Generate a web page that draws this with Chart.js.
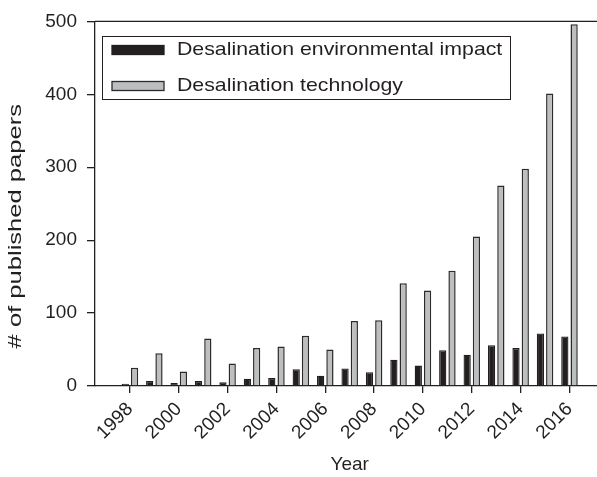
<!DOCTYPE html>
<html>
<head>
<meta charset="utf-8">
<script src="https://cdn.jsdelivr.net/npm/chart.js@4/dist/chart.umd.min.js"></script>
<style>
  html, body { margin: 0; padding: 0; background: #fff; overflow: hidden; width: 597px; height: 477px; }
  #wrap { width: 612px; height: 477px; }
</style>
</head>
<body>
<div id="wrap"><canvas id="c" width="612" height="477"></canvas></div>
<script>
// ---- data ----
const years = [1998, 1999, 2000, 2001, 2002, 2003, 2004, 2005, 2006, 2007,
               2008, 2009, 2010, 2011, 2012, 2013, 2014, 2015, 2016];
const impactPapers = [3, 7, 4, 7, 5, 10, 11, 23, 14, 24,
                      19, 36, 28, 49, 43, 56, 52, 72, 68];
const technologyPapers = [25, 45, 20, 65, 31, 52, 54, 69, 50, 89,
                          90, 141, 131, 158, 205, 275, 298, 401, 496];
const seriesLabels = ['Desalination environmental impact', 'Desalination technology'];
const yTicks = [0, 100, 200, 300, 400, 500];
const xTitle = 'Year';
const yTitle = '# of published papers';

// ---- styling ----
const DARK = '#231f20';
const GREY = '#bcbec0';
const FONT = '"Liberation Sans", Arial, Helvetica, sans-serif';
Chart.defaults.font.family = FONT;
Chart.defaults.color = DARK;

// stretch the rotated y title along its reading direction, like the reference
const stretchTitle = {
  id: 'stretchTitle',
  beforeDraw(chart, args, o) {
    const s = chart.scales.y;
    if (!s || s._patched) return;
    const orig = s.drawTitle.bind(s);
    s.drawTitle = function () {
      const ctx = this.ctx;
      const cy = (this.top + this.bottom) / 2;
      ctx.save();
      ctx.translate(0, cy + o.shift);
      ctx.scale(1, o.stretch);
      ctx.translate(0, -cy);
      orig();
      ctx.restore();
    };
    s._patched = true;
  }
};

// top frame line of the plot box
const topFrame = {
  id: 'topFrame',
  afterDatasetsDraw(chart) {
    const { ctx, chartArea } = chart;
    ctx.save();
    ctx.strokeStyle = DARK;
    ctx.lineWidth = 1.3;
    ctx.beginPath();
    ctx.moveTo(chartArea.left, chartArea.top);
    ctx.lineTo(chartArea.right + 10, chartArea.top);
    ctx.stroke();
    ctx.restore();
  }
};

// boxed legend inside the plot
const boxLegend = {
  id: 'boxLegend',
  afterDraw(chart, args, o) {
    const ctx = chart.ctx;
    ctx.save();
    ctx.fillStyle = '#fff';
    ctx.fillRect(o.x, o.y, o.w, o.h);
    ctx.strokeStyle = DARK;
    ctx.lineWidth = 1;
    ctx.strokeRect(o.x + 0.5, o.y + 0.5, o.w, o.h);
    chart.data.datasets.forEach((ds, i) => {
      const cy = o.firstY + i * o.gap;
      ctx.fillStyle = ds.backgroundColor;
      ctx.fillRect(o.swX, cy - o.swH / 2, o.swW, o.swH);
      ctx.strokeStyle = ds.borderColor;
      ctx.lineWidth = 1.3;
      ctx.strokeRect(o.swX, cy - o.swH / 2, o.swW, o.swH);
      ctx.save();
      ctx.translate(o.textX, cy);
      ctx.scale(o.textStretch, 1);
      ctx.font = o.fontSize + 'px ' + FONT;
      ctx.fillStyle = DARK;
      ctx.textBaseline = 'middle';
      ctx.textAlign = 'left';
      ctx.fillText(ds.label, 0, 0);
      ctx.restore();
    });
    ctx.restore();
  }
};

new Chart(document.getElementById('c'), {
  type: 'bar',
  data: {
    datasets: [
      {
        label: seriesLabels[0],
        data: years.map((y, i) => ({ x: y, y: impactPapers[i] })),
        backgroundColor: DARK,
        borderColor: DARK,
        borderWidth: 1.3
      },
      {
        label: seriesLabels[1],
        data: years.map((y, i) => ({ x: y, y: technologyPapers[i] })),
        backgroundColor: GREY,
        borderColor: '#2b2b2b',
        borderWidth: 1.5
      }
    ]
  },
  options: {
    responsive: false,
    animation: false,
    devicePixelRatio: 1,
    layout: { padding: { top: 20, right: 7.6, bottom: 0, left: 0 } },
    datasets: { bar: { categoryPercentage: 0.76, barPercentage: 0.78 } },
    plugins: {
      legend: { display: false },
      tooltip: { enabled: false },
      stretchTitle: { shift: 22.5, stretch: 1.42 },
      boxLegend: {
        x: 102, y: 36, w: 408, h: 63,
        firstY: 50, gap: 36,
        swX: 112, swW: 52, swH: 9,
        textX: 177, fontSize: 19, textStretch: 1.12
      }
    },
    scales: {
      x: {
        type: 'linear',
        offset: false,
        min: 1996.57,
        max: 2017.43,
        afterFit(s) { s.height = 91; },
        border: { display: true, color: DARK, width: 1.3 },
        grid: { offset: false, drawOnChartArea: false, drawTicks: true, tickLength: 7, color: DARK, lineWidth: 1.3 },
        ticks: {
          stepSize: 2,
          includeBounds: false,
          autoSkip: false,
          minRotation: 45,
          maxRotation: 45,
          padding: 5,
          font: { size: 19 },
          color: DARK,
          callback: (v) => String(v)
        },
        title: { display: true, text: xTitle, font: { size: 19 }, color: DARK, padding: { top: 0, bottom: 1 } }
      },
      y: {
        min: 0,
        max: 500,
        afterFit(s) { s.width = 95; },
        afterBuildTicks(s) { s.ticks = yTicks.map(v => ({ value: v })); },
        border: { display: true, color: DARK, width: 1.3 },
        grid: { drawOnChartArea: false, drawTicks: true, tickLength: 8, color: DARK, lineWidth: 1.3 },
        ticks: { padding: 10, font: { size: 19 }, color: DARK },
        title: { display: true, text: yTitle, font: { size: 18 }, color: DARK, padding: { top: 5, bottom: 0 } }
      }
    }
  },
  plugins: [stretchTitle, topFrame, boxLegend]
});
</script>
</body>
</html>
